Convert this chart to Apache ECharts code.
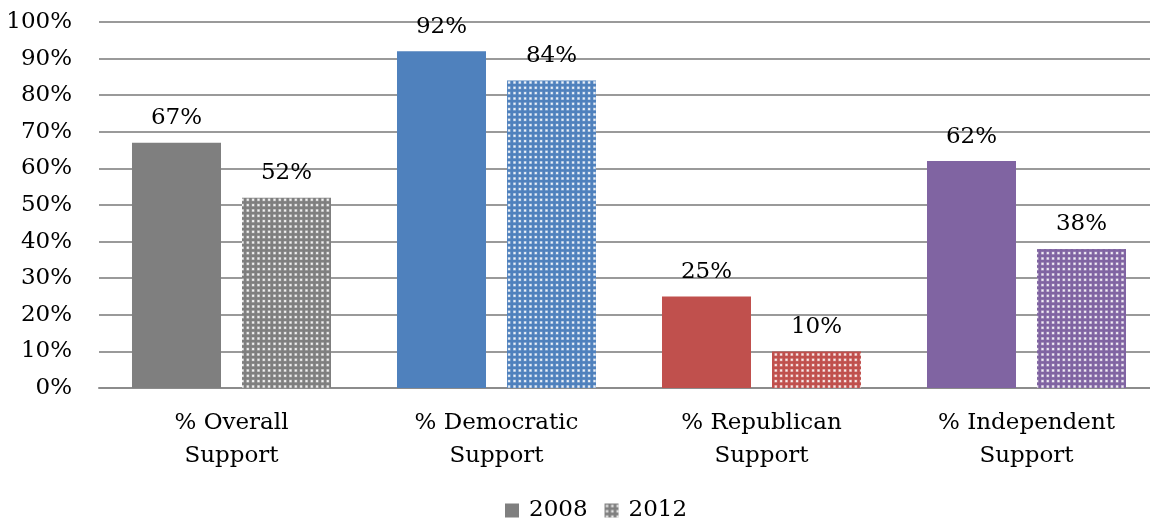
<!DOCTYPE html>
<html>
<head>
<meta charset="utf-8">
<script src="https://cdn.jsdelivr.net/npm/echarts@6/dist/echarts.min.js"></script>
<style>html,body{margin:0;padding:0;background:#fff;}#c{width:1150px;height:520px;}</style>
</head>
<body>
<div id="c"></div>
<script>
const categories = ['% Overall\nSupport', '% Democratic\nSupport', '% Republican\nSupport', '% Independent\nSupport'];
const seriesNames = ['2008', '2012'];
const values2008 = [67, 92, 25, 62];
const values2012 = [52, 84, 10, 38];
const catColors = ['#7f7f7f', '#4f81bd', '#c0504d', '#8064a2'];

function dotPattern(color) {
  const c = document.createElement('canvas');
  c.width = 16; c.height = 16;
  const g = c.getContext('2d');
  g.fillStyle = color;
  g.fillRect(0, 0, 16, 16);
  const pos = [1.5, 6.8, 12.1];
  for (const x of pos) for (const y of pos) {
    g.fillStyle = 'rgba(255,255,255,0.3)';
    g.fillRect(x - 0.5, y - 0.5, 3, 3);
    g.fillStyle = 'rgba(255,255,255,0.85)';
    g.fillRect(x, y, 2, 2);
  }
  return { image: c, repeat: 'repeat' };
}

const FONT = 'DejaVu Serif';
const FS = 23;
const chart = echarts.init(document.getElementById('c'));
chart.setOption({
  animation: false,
  textStyle: { fontFamily: FONT },
  grid: { left: 99, top: 22, width: 1060, height: 366, containLabel: false, outerBoundsMode: 'none' },
  legend: {
    data: seriesNames,
    left: 500, top: 494,
    icon: 'rect', itemWidth: 14, itemHeight: 14, itemGap: 17,
    textStyle: { fontFamily: FONT, fontSize: FS, color: '#000', padding: [0, 0, 0, 5] }
  },
  xAxis: {
    type: 'category', data: categories,
    axisTick: { show: false },
    axisLine: { lineStyle: { color: '#8c8c8c', width: 2 } },
    axisLabel: { fontFamily: FONT, fontSize: FS, color: '#000', lineHeight: 33, margin: 19 }
  },
  yAxis: {
    type: 'value', min: 0, max: 100, interval: 10,
    axisLabel: { formatter: '{value}%', fontFamily: FONT, fontSize: FS, color: '#000', margin: 27 },
    axisLine: { show: false }, axisTick: { show: false },
    splitLine: { lineStyle: { color: '#9a9a9a', width: 2 } }
  },
  series: [
    {
      name: seriesNames[0], type: 'bar', barWidth: 89, barGap: '23.6%',
      itemStyle: { color: catColors[0] },
      data: values2008.map((v, i) => ({ value: v, itemStyle: { color: catColors[i] } })),
      label: { show: true, position: 'top', distance: 13, formatter: '{c}%', fontFamily: FONT, fontSize: FS, color: '#000' }
    },
    {
      name: seriesNames[1], type: 'bar', barWidth: 89,
      itemStyle: { color: dotPattern(catColors[0]) },
      data: values2012.map((v, i) => ({ value: v, itemStyle: { color: dotPattern(catColors[i]) } })),
      label: { show: true, position: 'top', distance: 13, formatter: '{c}%', fontFamily: FONT, fontSize: FS, color: '#000' }
    }
  ]
});
</script>
</body>
</html>
